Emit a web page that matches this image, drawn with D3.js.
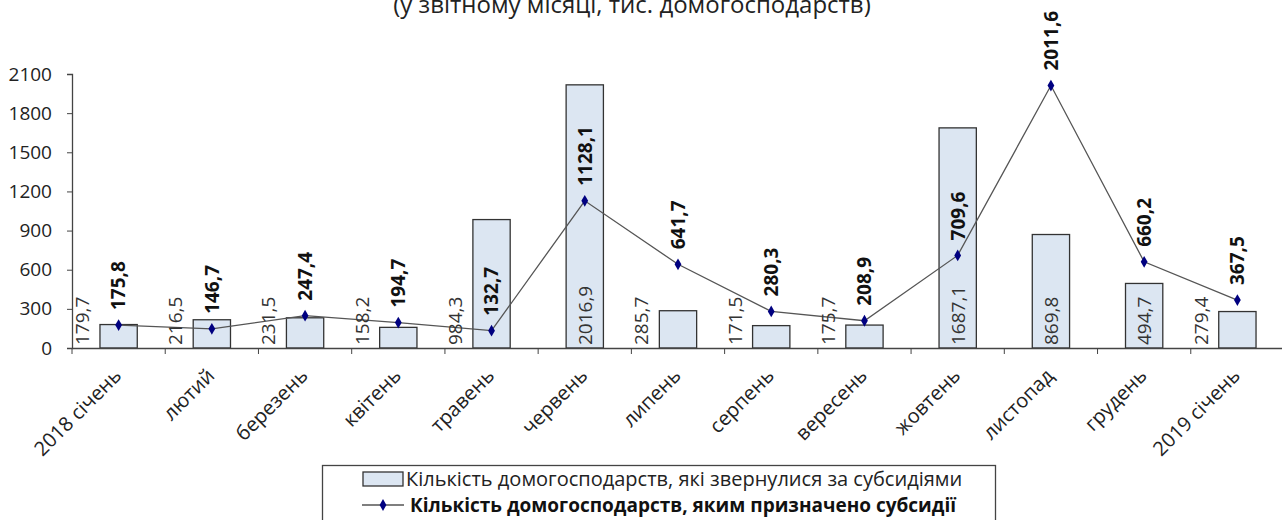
<!DOCTYPE html>
<html>
<head>
<meta charset="utf-8">
<script src="https://cdn.jsdelivr.net/npm/d3@7"></script>
<style>
  body { margin: 0; background: #fff; }
  svg { display: block; font-family: "Open Sans", sans-serif; }
</style>
</head>
<body>
<svg id="chart" width="1282" height="520"></svg>
<script>
var months = ["2018 січень", "лютий", "березень", "квітень", "травень", "червень",
              "липень", "серпень", "вересень", "жовтень", "листопад", "грудень", "2019 січень"];
var applied = [179.7, 216.5, 231.5, 158.2, 984.3, 2016.9, 285.7, 171.5, 175.7, 1687.1, 869.8, 494.7, 279.4];
var assigned = [175.8, 146.7, 247.4, 194.7, 132.7, 1128.1, 641.7, 280.3, 208.9, 709.6, 2011.6, 660.2, 367.5];
var yTicks = [0, 300, 600, 900, 1200, 1500, 1800, 2100];

var title = "(у звітному місяці, тис. домогосподарств)";
var legendBars = "Кількість домогосподарств, які звернулися за субсидіями";
var legendLine = "Кількість домогосподарств, яким  призначено субсидії";

var svg = d3.select("#chart");

var x = d3.scaleBand().domain(months).range([72, 1284]).paddingInner(0).paddingOuter(0);
var y = d3.scaleLinear().domain([0, 2100]).range([348, 74]);
var bw = x.bandwidth() * 0.4;
var cx = function(i) { return x(months[i]) + x.bandwidth() / 2; };
var fmt = function(v) { return d3.format(".1f")(v).replace(".", ","); };

// title (top line is cut off in the original)
svg.append("text")
    .attr("x", 632).attr("y", 13)
    .attr("text-anchor", "middle")
    .style("font-size", "24px").style("fill", "#222")
    .text(title);

// bars
svg.selectAll("rect.bar")
    .data(applied)
    .enter().append("rect")
    .attr("class", "bar")
    .attr("x", function(d, i) { return cx(i) - bw / 2; })
    .attr("y", function(d) { return y(d); })
    .attr("width", bw)
    .attr("height", function(d) { return y(0) - y(d); })
    .style("fill", "#dce6f2")
    .style("stroke", "#333")
    .style("stroke-width", 1.3);

// axes
var yAxis = svg.append("g")
    .attr("transform", "translate(72,0)")
    .call(d3.axisLeft(y).tickValues(yTicks).tickSize(5).tickPadding(15).tickFormat(d3.format("d")));
var xAxis = svg.append("g")
    .attr("transform", "translate(0,348)")
    .call(d3.axisBottom(x).tickSize(0).tickFormat(""));
xAxis.selectAll(".tick").remove();
svg.append("g").selectAll("line")
    .data(months)
    .enter().append("line")
    .attr("x1", function(d) { return x(d); }).attr("x2", function(d) { return x(d); })
    .attr("y1", 348).attr("y2", 354)
    .style("stroke", "#444");

[yAxis, xAxis].forEach(function(a) {
    a.select(".domain").style("stroke", "#444").style("stroke-width", 1.3);
    a.selectAll(".tick line").style("stroke", "#444");
    a.selectAll("text").style("font-size", "19px").style("fill", "#222").style("font-family", "Open Sans");
});

// month labels
svg.append("g").selectAll("text")
    .data(months)
    .enter().append("text")
    .attr("transform", function(d, i) { return "translate(" + (cx(i) + 4) + ",377) rotate(-45)"; })
    .attr("text-anchor", "end")
    .style("font-size", "20px").style("fill", "#222")
    .text(function(d) { return d; });

// line
var line = d3.line()
    .x(function(d, i) { return cx(i); })
    .y(function(d) { return y(d); });
svg.append("path")
    .datum(assigned)
    .attr("d", line)
    .style("fill", "none")
    .style("stroke", "#555")
    .style("stroke-width", 1.3);

svg.selectAll("path.pt")
    .data(assigned)
    .enter().append("path")
    .attr("class", "pt")
    .attr("d", d3.symbol().type(d3.symbolDiamond).size(40))
    .attr("transform", function(d, i) { return "translate(" + cx(i) + "," + y(d) + ")"; })
    .style("fill", "#000080");

// bar value labels: inside the tall bars, beside the short ones
svg.append("g").selectAll("text")
    .data(applied)
    .enter().append("text")
    .attr("transform", function(d, i) {
        var inside = d > 400 && assigned[i] > 400;
        var px = inside ? cx(i) : cx(i) - bw * 0.98;
        return "translate(" + px + ",345) rotate(-90)";
    })
    .attr("dy", "0.36em")
    .style("font-size", "19px").style("fill", "#333")
    .text(fmt);

// line value labels
svg.append("g").selectAll("text")
    .data(assigned)
    .enter().append("text")
    .attr("transform", function(d, i) { return "translate(" + cx(i) + "," + (y(d) - 15) + ") rotate(-90)"; })
    .attr("dy", "0.36em")
    .style("font-size", "19px").style("font-weight", "bold").style("fill", "#111")
    .text(fmt);

// legend
var lg = svg.append("g");
lg.append("rect")
    .attr("x", 322.5).attr("y", 465.5).attr("width", 673).attr("height", 70)
    .style("fill", "#fff").style("stroke", "#444").style("stroke-width", 1.3);
lg.append("rect")
    .attr("x", 363).attr("y", 472).attr("width", 40).attr("height", 14)
    .style("fill", "#dce6f2").style("stroke", "#333").style("stroke-width", 1.3);
lg.append("text")
    .attr("x", 406).attr("y", 486)
    .style("font-size", "20px").style("fill", "#222")
    .text(legendBars);
lg.append("line")
    .attr("x1", 362).attr("x2", 404).attr("y1", 505).attr("y2", 505)
    .style("stroke", "#555").style("stroke-width", 1.3);
lg.append("path")
    .attr("d", d3.symbol().type(d3.symbolDiamond).size(40))
    .attr("transform", "translate(383,505)")
    .style("fill", "#000080");
lg.append("text")
    .attr("x", 410).attr("y", 512)
    .style("font-size", "19px").style("font-weight", "bold").style("fill", "#111")
    .text(legendLine);
</script>
</body>
</html>
